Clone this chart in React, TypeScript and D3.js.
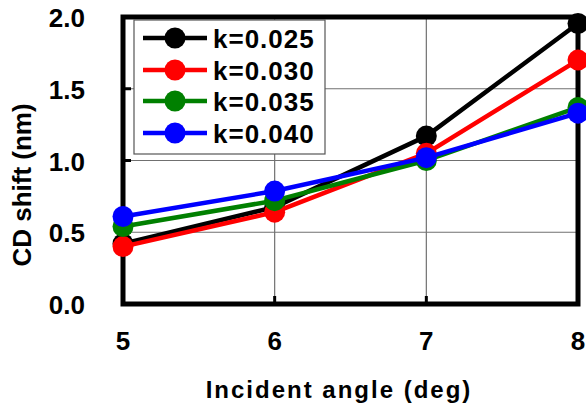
import React from "react";
import * as d3 from "d3";

const angles = [5, 6, 7, 8];
const seriesNames = ["k=0.025", "k=0.030", "k=0.035", "k=0.040"];
const seriesColors = ["#000000", "#ff0000", "#008000", "#0000ff"];
const k025 = [0.42, 0.675, 1.17, 1.955];
const k030 = [0.4, 0.64, 1.05, 1.7];
const k035 = [0.54, 0.72, 1.0, 1.37];
const k040 = [0.61, 0.787, 1.02, 1.33];
const seriesValues = [k025, k030, k035, k040];
const yTicks = [0, 0.5, 1.0, 1.5, 2.0];
const xTicks = [5, 6, 7, 8];

const W = 586;
const H = 407;
const L = 123, R = 578, T = 17, B = 304;
const FONT = "'Liberation Sans', Arial, sans-serif";

export default function App() {
  const x = d3.scaleLinear().domain([5, 8]).range([L, R]);
  const y = d3.scaleLinear().domain([0, 2]).range([B, T]);
  const line = d3
    .line<number>()
    .x((_, i) => x(angles[i]))
    .y((d) => y(d));

  const legX = 134, legY = 20, legW = 191, legH = 134;
  const rowY = [38, 70, 101, 133];

  return (
    <svg
      width={W}
      height={H}
      style={{ position: "absolute", left: 0, top: 0, background: "#fff" }}
    >
      <rect x={0} y={0} width={W} height={H} fill="#fff" />
      {/* grid */}
      {yTicks.slice(1, -1).map((t) => (
        <line key={"gy" + t} x1={L} x2={R} y1={y(t)} y2={y(t)} stroke="#707070" strokeWidth={1.2} />
      ))}
      {xTicks.slice(1, -1).map((t) => (
        <line key={"gx" + t} x1={x(t)} x2={x(t)} y1={T} y2={B} stroke="#707070" strokeWidth={1.2} />
      ))}
      {/* inward ticks */}
      {yTicks.slice(1, -1).map((t) => (
        <line key={"ty" + t} x1={L} x2={L + 8} y1={y(t)} y2={y(t)} stroke="#000" strokeWidth={3} />
      ))}
      {xTicks.slice(1, -1).map((t) => (
        <line key={"tx" + t} x1={x(t)} x2={x(t)} y1={B} y2={B - 8} stroke="#000" strokeWidth={3} />
      ))}
      {/* frame */}
      <rect x={L} y={T} width={R - L} height={B - T} fill="none" stroke="#000" strokeWidth={5} />
      {/* legend */}
      <rect x={legX} y={legY} width={legW} height={legH} fill="#fff" stroke="#555" strokeWidth={1.2} />
      {seriesNames.map((n, i) => (
        <g key={n}>
          <line x1={143} x2={207} y1={rowY[i]} y2={rowY[i]} stroke={seriesColors[i]} strokeWidth={4.5} />
          <circle cx={175} cy={rowY[i]} r={10.5} fill={seriesColors[i]} />
          <text
            x={213}
            y={rowY[i] + 9.5}
            fontFamily={FONT}
            fontWeight="bold"
            fontSize={26}
            letterSpacing={1}
            fill="#000"
          >
            {n}
          </text>
        </g>
      ))}
      {/* series */}
      {seriesValues.map((vals, i) => (
        <g key={"s" + i}>
          <path d={line(vals) || ""} fill="none" stroke={seriesColors[i]} strokeWidth={4.5} strokeLinejoin="round" />
          {vals.map((v, j) => (
            <circle key={j} cx={x(angles[j])} cy={y(v)} r={10.5} fill={seriesColors[i]} />
          ))}
        </g>
      ))}
      {/* y tick labels */}
      {yTicks.map((t) => (
        <text
          key={"yl" + t}
          x={85}
          y={y(t) + 10}
          textAnchor="end"
          fontFamily={FONT}
          fontWeight="bold"
          fontSize={26}
          fill="#000"
        >
          {t.toFixed(1)}
        </text>
      ))}
      {/* x tick labels */}
      {xTicks.map((t) => (
        <text
          key={"xl" + t}
          x={x(t)}
          y={350}
          textAnchor="middle"
          fontFamily={FONT}
          fontWeight="bold"
          fontSize={26}
          fill="#000"
        >
          {t}
        </text>
      ))}
      <text
        x={339}
        y={398}
        textAnchor="middle"
        fontFamily={FONT}
        fontWeight="bold"
        fontSize={24}
        letterSpacing={2}
        fill="#000"
      >
        Incident angle (deg)
      </text>
      <text
        transform={`translate(31,185) rotate(-90)`}
        textAnchor="middle"
        fontFamily={FONT}
        fontWeight="bold"
        fontSize={26}
        fill="#000"
      >
        CD shift (nm)
      </text>
    </svg>
  );
}
